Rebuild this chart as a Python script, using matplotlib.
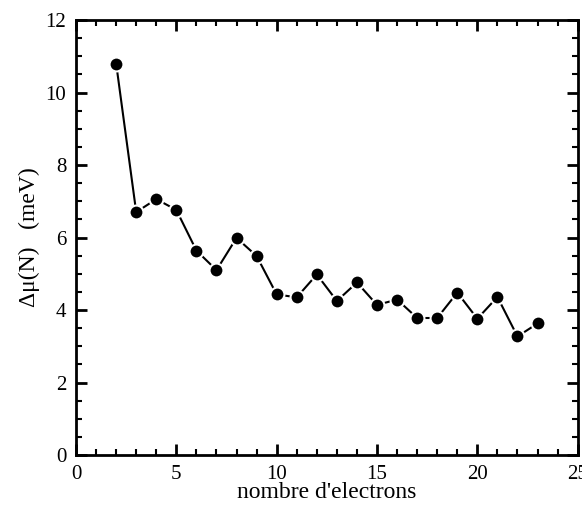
import numpy as np
import matplotlib.pyplot as plt
from matplotlib.ticker import MultipleLocator

plt.rcParams['font.family'] = ['Liberation Serif', 'DejaVu Serif']

# data
n_electrons = [2, 3, 4, 5, 6, 7, 8, 9, 10, 11, 12, 13, 14, 15, 16, 17, 18, 19, 20, 21, 22, 23]
delta_mu = [10.8, 6.70, 7.06, 6.76, 5.64, 5.10, 5.99, 5.49, 4.43, 4.35, 4.98, 4.25,
            4.76, 4.14, 4.29, 3.78, 3.78, 4.48, 3.76, 4.36, 3.27, 3.63]

fig = plt.figure(figsize=(5.82, 5.13), dpi=100)
ax = fig.add_axes([0.1306, 0.113, 0.862, 0.848])

ax.plot(n_electrons, delta_mu, '-o', color='black', lw=1.5,
        markersize=10, markerfacecolor='black', markeredgecolor='white', markeredgewidth=1.5)

ax.set_xlim(0, 25)
ax.set_ylim(0, 12)
ax.xaxis.set_major_locator(MultipleLocator(5))
ax.xaxis.set_minor_locator(MultipleLocator(1))
ax.yaxis.set_major_locator(MultipleLocator(2))
ax.yaxis.set_minor_locator(MultipleLocator(0.5))
ax.tick_params(which='both', direction='in', top=True, right=True, labelsize=15)
ax.tick_params(which='major', length=8, width=2)
ax.tick_params(which='minor', length=4.5, width=1.5)
ax.tick_params(axis='x', pad=7)
ax.tick_params(axis='y', pad=7)
for s in ax.spines.values():
    s.set_linewidth(2)

ax.set_xlabel("nombre d'electrons", fontsize=17, labelpad=-1)
ax.set_ylabel('\u0394\u03bc(N)   (meV)', fontsize=17, labelpad=4)

fig.savefig('out.png', dpi=100)
